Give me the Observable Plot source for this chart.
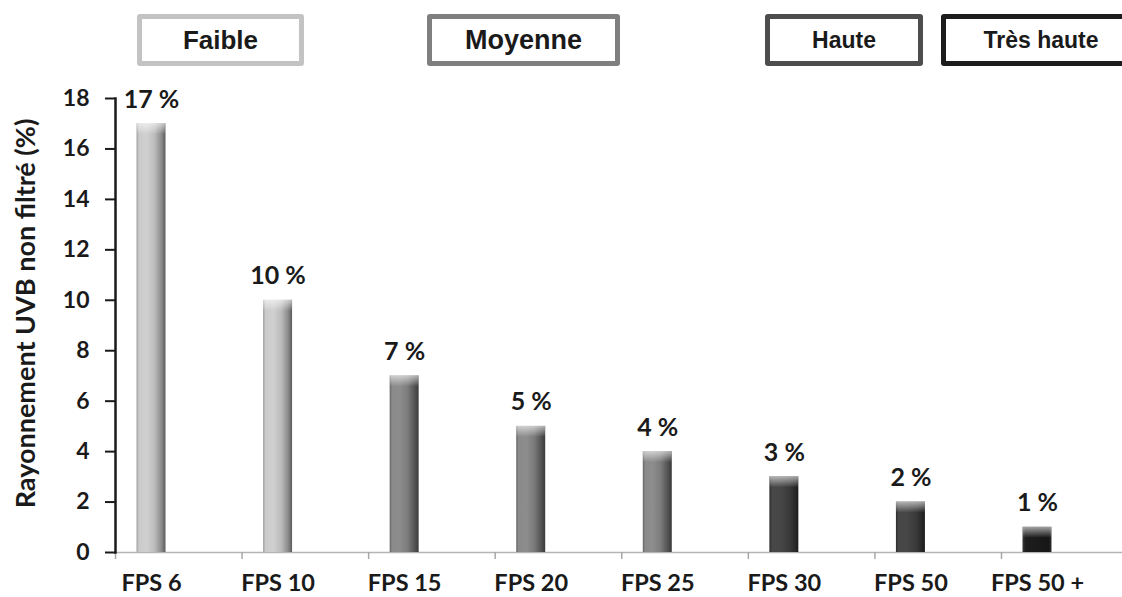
<!DOCTYPE html>
<html><head><meta charset="utf-8">
<script src="https://cdn.jsdelivr.net/npm/d3@7"></script>
<script src="https://cdn.jsdelivr.net/npm/@observablehq/plot@0.6"></script>
<style>
body{margin:0;background:#fff;overflow:hidden;width:1122px;height:597px;}
#legend{position:relative;height:80px;width:1122px;overflow:hidden;}
.lg{position:absolute;top:14px;height:52px;box-sizing:border-box;border:5px solid;border-radius:3px;background:#fff;display:flex;align-items:center;justify-content:center;font-family:"Liberation Sans",Arial,sans-serif;font-weight:bold;color:#1a1a1a;}
#chart svg{display:block;}
</style></head><body>
<div id="legend"></div><div id="chart"></div>
<script>
// ---- data ----
const categories = ["FPS 6","FPS 10","FPS 15","FPS 20","FPS 25","FPS 30","FPS 50","FPS 50 +"];
const values = [17, 10, 7, 5, 4, 3, 2, 1];
const levels = ["Faible","Faible","Moyenne","Moyenne","Moyenne","Haute","Haute","Très haute"];
const levelNames = ["Faible","Moyenne","Haute","Très haute"];
const yTicks = [0, 2, 4, 6, 8, 10, 12, 14, 16, 18];
const yTitle = "Rayonnement UVB non filtré (%)";

// ---- styles ----
const levelBorder = ["#c3c3c3","#7f7f7f","#4d4d4d","#1c1c1c"];
const legendLayout = [
  {left:137, width:167, fontSize:26},
  {left:427, width:193, fontSize:27},
  {left:765, width:158, fontSize:23},
  {left:941, width:200, fontSize:23}
];
const gradStops = [
  [["0","#9c9c9c"],["0.08","#cacaca"],["0.35","#d0d0d0"],["0.62","#bcbcbc"],["0.85","#8e8e8e"],["1","#5c5c5c"]],
  [["0","#656565"],["0.08","#8a8a8a"],["0.35","#8d8d8d"],["0.62","#7b7b7b"],["0.85","#555555"],["1","#3a3a3a"]],
  [["0","#2e2e2e"],["0.1","#484848"],["0.4","#464646"],["0.7","#393939"],["0.9","#272727"],["1","#1a1a1a"]],
  [["0","#3a3a3a"],["0.1","#1e1e1e"],["0.5","#1a1a1a"],["0.9","#161616"],["1","#2e2e2e"]]
];

// ---- legend ----
const legend = document.getElementById("legend");
levelNames.forEach((name, i) => {
  const d = document.createElement("div");
  d.className = "lg";
  d.textContent = name;
  d.style.left = legendLayout[i].left + "px";
  d.style.width = legendLayout[i].width + "px";
  d.style.fontSize = legendLayout[i].fontSize + "px";
  d.style.borderColor = levelBorder[i];
  legend.appendChild(d);
});

// ---- chart ----
const data = categories.map((c, i) => ({cat: c, value: values[i], level: levels[i]}));
const gradId = (lvl) => `url(#grad${levelNames.indexOf(lvl)})`;
const font = "Lato, 'Open Sans', sans-serif";

const chart = Plot.plot({
  width: 1122,
  height: 517,
  marginTop: 18,
  marginBottom: 45,
  marginLeft: 115,
  marginRight: 0,
  style: {fontFamily: font, fontWeight: "bold", color: "#1a1a1a", background: "transparent"},
  x: {type: "band", domain: categories, range: [115, 1073], paddingInner: 0.771, paddingOuter: 0.17, round: false, label: null},
  y: {domain: [0, 18], label: null},
  color: {type: "identity"},
  marks: [
    Plot.ruleY([0], {stroke: "#b5b5b5", strokeWidth: 1.5}),
    Plot.ruleX(categories, {x: d => d, dx: -36, y1: 0, y2: -0.28, stroke: "#a8a8a8", strokeWidth: 1.5}),
    Plot.barY(data, {x: "cat", y: "value", fill: d => gradId(d.level)}),
    Plot.barY(data, {x: "cat", y1: "value", y2: "value", insetBottom: -11, fill: "url(#topgrad)"}),
    Plot.frame({anchor: "left", stroke: "#1a1a1a", strokeWidth: 2.5}),
    Plot.axisY({ticks: yTicks, tickSize: 10, tickPadding: 16, fontSize: 23, fontWeight: "bold", stroke: "#1a1a1a", strokeWidth: 2, label: null}),
    Plot.text([yTitle], {frameAnchor: "left", textAnchor: "middle", lineAnchor: "middle", rotate: -90, dx: -89, dy: -12, fontSize: 27, fontWeight: "bold", fill: "#1a1a1a"}),
    Plot.axisX({tickSize: 0, tickPadding: 22, fontSize: 23.5, fontWeight: "bold", label: null}),
    Plot.text(data, {x: "cat", y: "value", text: d => `${d.value} %`, dy: -16, lineAnchor: "bottom", fontSize: 25, fontWeight: "bold", fill: "#1a1a1a"})
  ]
});

// gradient definitions
const svg = d3.select(chart);
const defs = svg.insert("defs", ":first-child");
gradStops.forEach((stops, i) => {
  const g = defs.append("linearGradient").attr("id", `grad${i}`).attr("x1", 0).attr("x2", 1).attr("y1", 0).attr("y2", 0);
  stops.forEach(([o, c]) => g.append("stop").attr("offset", o).attr("stop-color", c));
});
const tg = defs.append("linearGradient").attr("id", "topgrad").attr("x1", 0).attr("x2", 0).attr("y1", 0).attr("y2", 1);
tg.append("stop").attr("offset", "0").attr("stop-color", "#ffffff").attr("stop-opacity", 0.6);
tg.append("stop").attr("offset", "1").attr("stop-color", "#ffffff").attr("stop-opacity", 0);

document.getElementById("chart").appendChild(chart);
</script>
</body></html>
